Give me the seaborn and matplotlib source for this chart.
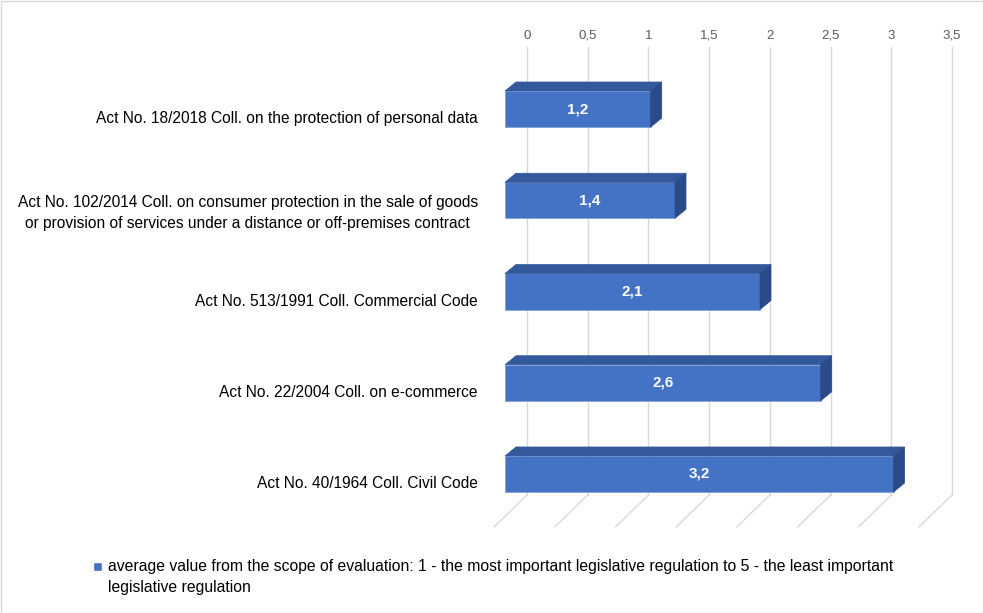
import matplotlib
matplotlib.use("Agg")
import matplotlib.pyplot as plt
from matplotlib.patches import Polygon, Rectangle
from matplotlib.transforms import ScaledTranslation
import pandas as pd
import seaborn as sns

categories = [
    "Act No. 18/2018 Coll. on the protection of personal data",
    "Act No. 102/2014 Coll. on consumer protection in the sale of goods\nor provision of services under a distance or off-premises contract",
    "Act No. 513/1991 Coll. Commercial Code",
    "Act No. 22/2004 Coll. on e-commerce",
    "Act No. 40/1964 Coll. Civil Code",
]
values = [1.2, 1.4, 2.1, 2.6, 3.2]
ticks = [0, 0.5, 1, 1.5, 2, 2.5, 3, 3.5]
tick_labels = ["0", "0,5", "1", "1,5", "2", "2,5", "3", "3,5"]
legend_text = ("average value from the scope of evaluation: 1 - the most important legislative regulation to 5 - the least important\n"
               "legislative regulation")

sns.set_style("white")
plt.rcParams['font.family'] = ['Liberation Sans', 'DejaVu Sans']

W, H = 983, 613
fig = plt.figure(figsize=(W / 100, H / 100), dpi=100)

front = "#4472C4"
top_c = "#33589b"
side_c = "#2b4b88"
grid_c = "#d9d9d9"

# back plane: gridlines + tick labels
gtop = 47
ax_b = fig.add_axes([527 / W, (H - 527) / H, 425 / W, (527 - gtop) / H])
ax_b.set_xlim(0, 3.5)
ax_b.set_ylim(0, 1)
floor = 32 / (527 - gtop)
for t in ticks:
    ax_b.plot([t, t], [floor, 1], color=grid_c, lw=1, clip_on=False)
    ax_b.plot([t, t - 33 / 121.4], [floor, 0], color=grid_c, lw=1, clip_on=False)
ax_b.xaxis.tick_top()
ax_b.set_xticks(ticks)
ax_b.set_xticklabels(tick_labels, color="#595959", fontsize=9.5, va="baseline")
ax_b.tick_params(axis="x", length=0, pad=6)
ax_b.set_yticks([])
for s in ax_b.spines.values():
    s.set_visible(False)
ax_b.patch.set_alpha(0)

# front plane: bars
ax = fig.add_axes([505 / W, (H - 519.6) / H, 425 / W, 456.2 / H])
df = pd.DataFrame({"law": categories, "value": values})
sns.barplot(data=df, x="value", y="law", orient="h", color=front, width=0.395,
            saturation=1, ax=ax, edgecolor="#7f9fd6", linewidth=0.5)
ax.set_xlim(0, 3.5)
ax.set_xlabel("")
ax.set_ylabel("")
ax.set_xticks([])
ax.patch.set_alpha(0)
for s in ax.spines.values():
    s.set_visible(False)
ax.tick_params(axis="y", length=0, pad=19.5)
off = ScaledTranslation(0, -8 / 100, fig.dpi_scale_trans)
for lab in ax.get_yticklabels():
    lab.set_fontsize(11.2)
    lab.set_color("#000000")
    lab.set_transform(lab.get_transform() + off)
    lab.set_horizontalalignment("right")
    lab.set_multialignment("center")
    lab.set_linespacing(1.5)

fig.canvas.draw()
inv = fig.transFigure.inverted()
dx, dy = 11, 9
for p, v in zip(ax.patches, values):
    x0, y0, w, h = p.get_x(), p.get_y(), p.get_width(), p.get_height()
    pts = ax.transData.transform([(x0, y0), (x0 + w, y0 + h)])
    l, r = pts[:, 0].min(), pts[:, 0].max()
    b, t = pts[:, 1].min(), pts[:, 1].max()
    topface = [(l, t), (r, t), (r + dx, t + dy), (l + dx, t + dy)]
    sideface = [(r, b), (r, t), (r + dx, t + dy), (r + dx, b + dy)]
    for poly, c in ((topface, top_c), (sideface, side_c)):
        ax.add_patch(Polygon(inv.transform(poly), closed=True, facecolor=c,
                             edgecolor=c, lw=0.5, transform=fig.transFigure,
                             clip_on=False))
    ax.text(x0 + w / 2, y0 + h / 2, f"{v:.1f}".replace(".", ","), color="white",
            fontsize=11, fontweight="bold", ha="center", va="center")

# legend
fig.patches.append(Rectangle((93 / W, (H - 571) / H), 9 / W, 9 / H, facecolor=front,
                             transform=fig.transFigure, figure=fig))
fig.text(108 / W, (H - 577) / H, legend_text, fontsize=11.3, color="#000000",
         va="center", ha="left", linespacing=1.45)

fig.patches.append(Rectangle((0.5 / W, 0.5 / H), 1 - 1 / W, 1 - 1 / H, fill=False,
                             edgecolor=grid_c, lw=1, transform=fig.transFigure, figure=fig))

fig.savefig("out.png", dpi=100)
